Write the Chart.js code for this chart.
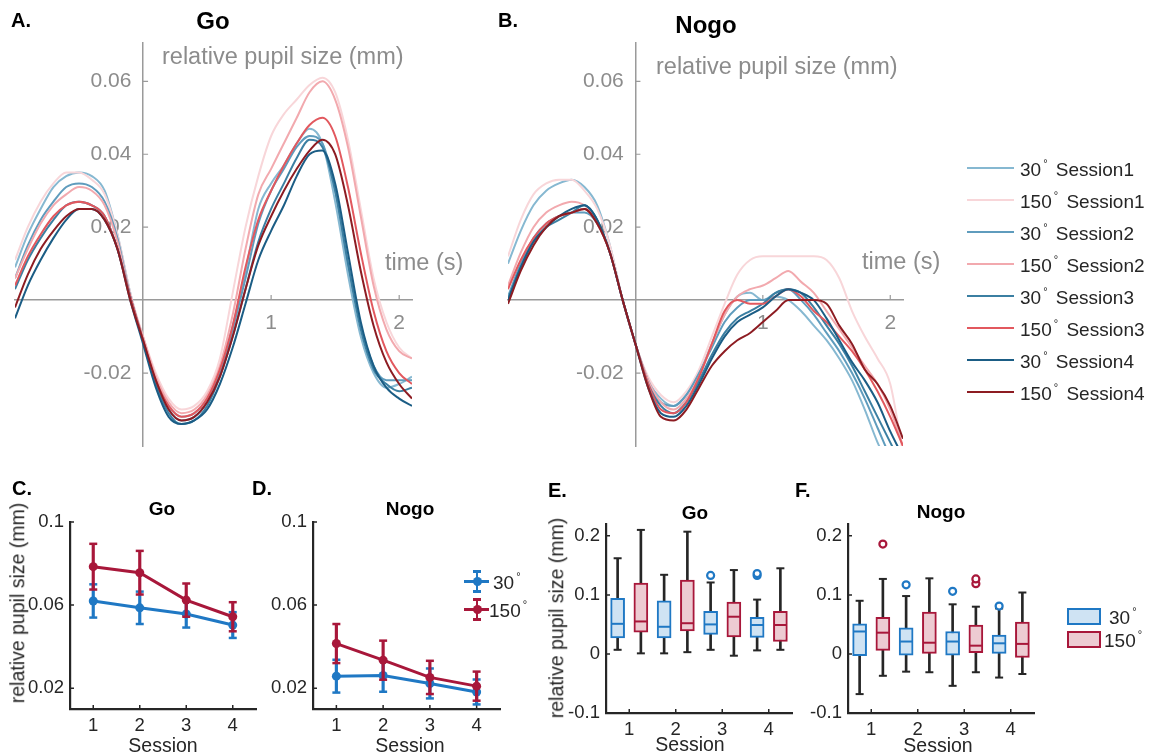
<!DOCTYPE html>
<html>
<head>
<meta charset="utf-8">
<title>Pupil size by session</title>
<script src="https://cdn.jsdelivr.net/npm/chart.js@4.4.1/dist/chart.umd.min.js"></script>
<style>
  body { margin: 0; background: #fff; font-family: "Liberation Sans", Arial, Helvetica, sans-serif; }
  #page { position: relative; width: 1162px; height: 754px; overflow: hidden; background: #fff; }
  #page canvas { position: absolute; left: 0; top: 0; }
  .t { position: absolute; white-space: nowrap; line-height: 1; z-index: 5; }
  .letter { font-weight: bold; font-size: 20px; color: #000; transform: translateY(-50%); }
  .title { font-weight: bold; color: #000; transform: translate(-50%, -50%); }
  .gray { color: #8c8c8c; font-size: 23.5px; transform: translateY(-50%); }
  .lbl { color: #262626; font-size: 19.5px; transform: translate(-50%, -50%); }
  .ylbl { color: #262626; font-size: 19.5px; transform: translate(-50%, -50%) rotate(-90deg); }
  .leg { color: #262626; font-size: 19px; transform: translateY(-50%); }
  .leg sup { font-size: 11px; vertical-align: 9px; margin: 0 3px 0 2px; }
  .swatch { position: absolute; z-index: 5; }
</style>
</head>
<body>
<div id="page">
  <div class="t letter" style="left:11px; top:20px;">A.</div>
  <div class="t title" style="left:213px; top:21px; font-size:24px;">Go</div>
  <div class="t letter" style="left:498px; top:20px;">B.</div>
  <div class="t title" style="left:706px; top:25px; font-size:24px;">Nogo</div>
  <div class="t gray" style="left:162px; top:57px;">relative pupil size (mm)</div>
  <div class="t gray" style="left:656px; top:67px;">relative pupil size (mm)</div>
  <div class="t gray" style="left:385px; top:263px;">time (s)</div>
  <div class="t gray" style="left:862px; top:262px;">time (s)</div>

  <div class="t letter" style="left:12px; top:488px;">C.</div>
  <div class="t title" style="left:162px; top:508px; font-size:19px;">Go</div>
  <div class="t letter" style="left:252px; top:488px;">D.</div>
  <div class="t title" style="left:410px; top:508px; font-size:19px;">Nogo</div>
  <div class="t letter" style="left:548px; top:490px;">E.</div>
  <div class="t title" style="left:695px; top:512px; font-size:19px;">Go</div>
  <div class="t letter" style="left:795px; top:490px;">F.</div>
  <div class="t title" style="left:941px; top:511px; font-size:19px;">Nogo</div>
  <div class="t ylbl" style="left:18px; top:603px;">relative pupil size (mm)</div>
  <div class="t ylbl" style="left:557px; top:618px;">relative pupil size (mm)</div>
  <div class="t lbl" style="left:163px; top:746px;">Session</div>
  <div class="t lbl" style="left:410px; top:746px;">Session</div>
  <div class="t lbl" style="left:690px; top:745px;">Session</div>
  <div class="t lbl" style="left:938px; top:746px;">Session</div>
  <div id="legends"></div>
</div>

<script>
// time axis (s) of the traces in A and B
const timePoints = [-1.0, -0.9, -0.8, -0.7, -0.6, -0.5, -0.4, -0.3, -0.2, -0.1, 0, 0.1, 0.2, 0.3, 0.4, 0.5,
  0.6, 0.7, 0.8, 0.9, 1.0, 1.1, 1.2, 1.3, 1.4, 1.5, 1.6, 1.7, 1.8, 1.9, 2.0, 2.1];
const timeTicks = [1, 2];
const timeTickLabels = ['1', '2'];
const traceTicks = [-0.02, 0.02, 0.04, 0.06];
const traceTickLabels = ['-0.02', '0.02', '0.04', '0.06'];

// A. Go traces
const go30s1 = [0.009, 0.018, 0.025, 0.031, 0.034, 0.035, 0.034, 0.030, 0.018, 0.002, -0.011, -0.022, -0.029, -0.032, -0.031, -0.027, -0.019, -0.007, 0.008, 0.025, 0.032, 0.037, 0.043, 0.047, 0.043, 0.027, 0.007, -0.010, -0.020, -0.024, -0.023, -0.021];
const go150s1 = [0.011, 0.020, 0.027, 0.032, 0.035, 0.035, 0.033, 0.029, 0.018, 0.002, -0.010, -0.020, -0.027, -0.030, -0.029, -0.025, -0.016, 0.002, 0.020, 0.034, 0.045, 0.051, 0.055, 0.059, 0.061, 0.057, 0.044, 0.025, 0.006, -0.006, -0.013, -0.016];
const go30s2 = [0.006, 0.015, 0.022, 0.027, 0.031, 0.032, 0.031, 0.027, 0.017, 0.001, -0.011, -0.022, -0.030, -0.033, -0.032, -0.028, -0.020, -0.008, 0.006, 0.021, 0.030, 0.036, 0.042, 0.045, 0.043, 0.030, 0.010, -0.007, -0.018, -0.022, -0.022, -0.022];
const go150s2 = [0.006, 0.014, 0.021, 0.026, 0.029, 0.031, 0.030, 0.026, 0.016, 0.001, -0.010, -0.021, -0.028, -0.031, -0.030, -0.026, -0.018, -0.004, 0.014, 0.029, 0.036, 0.043, 0.050, 0.057, 0.060, 0.055, 0.042, 0.023, 0.004, -0.008, -0.014, -0.016];
const go30s3 = [0.003, 0.011, 0.017, 0.022, 0.026, 0.027, 0.026, 0.023, 0.014, 0.001, -0.011, -0.023, -0.031, -0.034, -0.033, -0.029, -0.021, -0.010, 0.003, 0.016, 0.025, 0.032, 0.039, 0.044, 0.042, 0.030, 0.010, -0.008, -0.019, -0.023, -0.025, -0.024];
const go150s3 = [0.004, 0.012, 0.018, 0.023, 0.026, 0.027, 0.026, 0.023, 0.014, 0.001, -0.011, -0.022, -0.029, -0.032, -0.031, -0.027, -0.019, -0.007, 0.009, 0.022, 0.030, 0.037, 0.043, 0.048, 0.050, 0.045, 0.031, 0.013, -0.003, -0.014, -0.020, -0.023];
const go30s4 = [-0.005, 0.004, 0.011, 0.017, 0.022, 0.025, 0.025, 0.022, 0.014, 0.000, -0.012, -0.024, -0.032, -0.034, -0.033, -0.030, -0.023, -0.013, -0.001, 0.011, 0.019, 0.026, 0.034, 0.040, 0.041, 0.032, 0.013, -0.006, -0.018, -0.024, -0.027, -0.029];
const go150s4 = [-0.002, 0.007, 0.014, 0.019, 0.023, 0.025, 0.025, 0.022, 0.014, 0.000, -0.011, -0.022, -0.030, -0.033, -0.032, -0.028, -0.021, -0.010, 0.003, 0.015, 0.023, 0.030, 0.036, 0.041, 0.044, 0.040, 0.026, 0.008, -0.007, -0.017, -0.023, -0.027];

// B. Nogo traces
const nogo30s1 = [0.010, 0.019, 0.026, 0.030, 0.032, 0.033, 0.031, 0.026, 0.015, 0.000, -0.012, -0.022, -0.027, -0.029, -0.026, -0.020, -0.012, -0.004, 0.001, 0.002, 0.000, 0.001, 0.000, -0.003, -0.007, -0.011, -0.016, -0.022, -0.030, -0.039, -0.046, -0.052];
const nogo150s1 = [0.012, 0.022, 0.029, 0.032, 0.033, 0.033, 0.030, 0.025, 0.015, 0.000, -0.012, -0.021, -0.026, -0.028, -0.025, -0.019, -0.010, -0.001, 0.007, 0.011, 0.012, 0.012, 0.012, 0.012, 0.012, 0.011, 0.006, -0.003, -0.010, -0.016, -0.023, -0.042];
const nogo30s2 = [0.001, 0.010, 0.017, 0.021, 0.023, 0.024, 0.024, 0.021, 0.013, 0.000, -0.012, -0.022, -0.028, -0.029, -0.026, -0.020, -0.013, -0.006, -0.002, 0.000, 0.000, 0.002, 0.003, 0.000, -0.004, -0.009, -0.014, -0.020, -0.027, -0.035, -0.043, -0.050];
const nogo150s2 = [0.004, 0.013, 0.020, 0.024, 0.026, 0.027, 0.026, 0.022, 0.013, 0.000, -0.012, -0.022, -0.028, -0.030, -0.027, -0.021, -0.012, -0.004, 0.001, 0.003, 0.004, 0.006, 0.008, 0.005, 0.002, -0.003, -0.008, -0.013, -0.018, -0.023, -0.030, -0.040];
const nogo30s3 = [0.000, 0.009, 0.016, 0.020, 0.022, 0.024, 0.026, 0.022, 0.013, 0.000, -0.012, -0.023, -0.029, -0.031, -0.028, -0.022, -0.015, -0.009, -0.005, -0.003, -0.001, 0.002, 0.003, 0.002, -0.002, -0.007, -0.012, -0.018, -0.025, -0.032, -0.039, -0.046];
const nogo150s3 = [0.003, 0.011, 0.017, 0.021, 0.023, 0.024, 0.025, 0.021, 0.013, 0.000, -0.012, -0.023, -0.030, -0.031, -0.028, -0.021, -0.012, -0.003, 0.000, -0.001, -0.001, 0.001, 0.003, 0.001, -0.003, -0.006, -0.010, -0.014, -0.019, -0.025, -0.032, -0.040];
const nogo30s4 = [0.000, 0.009, 0.016, 0.020, 0.023, 0.025, 0.026, 0.022, 0.013, 0.000, -0.012, -0.024, -0.031, -0.032, -0.029, -0.023, -0.016, -0.010, -0.006, -0.004, -0.002, 0.001, 0.003, 0.002, 0.000, -0.005, -0.011, -0.017, -0.022, -0.028, -0.036, -0.043];
const nogo150s4 = [-0.001, 0.008, 0.015, 0.020, 0.023, 0.024, 0.025, 0.021, 0.013, 0.000, -0.012, -0.024, -0.032, -0.033, -0.030, -0.024, -0.018, -0.014, -0.011, -0.009, -0.006, -0.003, 0.000, 0.000, 0.000, -0.001, -0.007, -0.012, -0.019, -0.023, -0.029, -0.038];

const traceLabels = ['30° Session1', '150° Session1', '30° Session2', '150° Session2',
  '30° Session3', '150° Session3', '30° Session4', '150° Session4'];
const traceColors = ['#86b8d1', '#f8d6d9', '#5f9cbd', '#f2a9ae', '#3b7fa2', '#e2585e', '#1b5d85', '#8d1c22'];

// C/D: mean +/- s.e.m. per session
const sessions = [1, 2, 3, 4];
const sessionLabels = ['1', '2', '3', '4'];
const goMean30 = [0.0620, 0.0587, 0.0557, 0.0504];
const goErr30 = [0.0080, 0.0078, 0.0065, 0.0062];
const goMean150 = [0.0785, 0.0756, 0.0624, 0.0544];
const goErr150 = [0.0110, 0.0105, 0.0080, 0.0070];
const nogoMean30 = [0.0258, 0.0261, 0.0223, 0.0182];
const nogoErr30 = [0.0079, 0.0078, 0.0072, 0.0060];
const nogoMean150 = [0.0415, 0.0335, 0.0252, 0.0210];
const nogoErr150 = [0.0094, 0.0094, 0.0080, 0.0070];
const meanTicks = [0.02, 0.06, 0.1];
const meanTickLabels = ['0.02', '0.06', '0.1'];

// E/F: box plots, [lower whisker, q1, median, q3, upper whisker]
const goBox30 = [[0.007, 0.027, 0.051, 0.094, 0.162], [0.001, 0.027, 0.046, 0.090, 0.134], [0.007, 0.033, 0.050, 0.072, 0.121], [0.006, 0.028, 0.049, 0.062, 0.092]];
const goOut30 = [[], [], [0.133], [0.133, 0.136]];
const goBox150 = [[0.001, 0.037, 0.055, 0.120, 0.210], [0.003, 0.039, 0.052, 0.125, 0.207], [-0.003, 0.029, 0.063, 0.088, 0.142], [0.007, 0.021, 0.049, 0.072, 0.145]];
const goOut150 = [[], [], [], []];
const nogoBox30 = [[-0.068, -0.003, 0.038, 0.051, 0.090], [-0.030, -0.002, 0.021, 0.044, 0.098], [-0.054, -0.002, 0.021, 0.038, 0.084], [-0.040, 0.001, 0.018, 0.032, 0.077]];
const nogoOut30 = [[], [0.117], [0.106], [0.081]];
const nogoBox150 = [[-0.037, 0.006, 0.036, 0.062, 0.127], [-0.031, 0.001, 0.019, 0.071, 0.128], [-0.031, 0.002, 0.014, 0.049, 0.080], [-0.034, -0.006, 0.017, 0.054, 0.104]];
const nogoOut150 = [[0.186], [], [0.119, 0.127], []];
const boxTicks = [-0.1, 0, 0.1, 0.2];
const boxTickLabels = ['-0.1', '0', '0.1', '0.2'];

const W = 1162, H = 754;
const FONT = '"Liberation Sans", Arial, Helvetica, sans-serif';
const AXIS_GRAY = '#9a9a9a', TICK_GRAY = '#8c8c8c';
const AXIS_DARK = '#262626', TICK_DARK = '#262626';
const BLUE = '#1f78c4', RED = '#a8173a';
const BLUE_FILL = '#cfe3f3', RED_FILL = '#edcbd2';

Chart.defaults.font.family = FONT;

// MATLAB style ticks that point into the axes
Chart.register({
  id: 'innerTicks',
  beforeDatasetsDraw(chart, args, opts) {
    if (!opts.len) return;
    const { ctx, chartArea } = chart;
    const xs = chart.scales.x, ys = chart.scales.y;
    const xLine = opts.cross ? ys.getPixelForValue(0) : chartArea.bottom;
    const yLine = opts.cross ? xs.getPixelForValue(0) : chartArea.left;
    ctx.save();
    ctx.strokeStyle = opts.color;
    ctx.lineWidth = opts.width;
    ctx.beginPath();
    xs.ticks.forEach(t => {
      const p = xs.getPixelForValue(t.value);
      ctx.moveTo(p, xLine); ctx.lineTo(p, xLine - opts.len);
    });
    ys.ticks.forEach(t => {
      const p = ys.getPixelForValue(t.value);
      ctx.moveTo(yLine, p); ctx.lineTo(yLine + opts.len, p);
    });
    ctx.stroke();
    ctx.restore();
  }
});

function makeCanvas() {
  const c = document.createElement('canvas');
  c.width = W; c.height = H;
  document.getElementById('page').appendChild(c);
  return c;
}

function areaPadding(a, yw, xh) {
  return { left: a.left - yw, top: a.top, right: W - a.right, bottom: H - a.bottom - xh };
}

const baseOptions = {
  responsive: false,
  animation: false,
  devicePixelRatio: 1,
  events: []
};

function timeCourse(area, series) {
  const datasets = series.map((values, i) => ({
    type: 'line',
    label: traceLabels[i],
    data: timePoints.map((t, k) => ({ x: t, y: values[k] })),
    borderColor: traceColors[i],
    borderWidth: 2,
    pointRadius: 0,
    cubicInterpolationMode: 'monotone',
    order: series.length - i
  }));
  new Chart(makeCanvas(), {
    type: 'line',
    data: { datasets },
    options: Object.assign({}, baseOptions, {
      layout: { padding: areaPadding(area, 0, 0) },
      plugins: {
        legend: { display: false },
        tooltip: { enabled: false },
        innerTicks: { len: 5, color: AXIS_GRAY, width: 1.2, cross: true }
      },
      scales: {
        x: {
          type: 'linear', min: -1.0, max: 2.1, position: { y: 0 },
          grid: { display: false, drawTicks: false },
          border: { color: AXIS_GRAY, width: 1.5 },
          ticks: { color: TICK_GRAY, font: { size: 21 }, padding: 10, callback: (v, i) => timeTickLabels[i] },
          afterBuildTicks: s => { s.ticks = timeTicks.map(v => ({ value: v })); }
        },
        y: {
          type: 'linear', min: -0.04, max: 0.0705, position: { x: 0 },
          grid: { display: false, drawTicks: false },
          border: { color: AXIS_GRAY, width: 1.5 },
          ticks: { color: TICK_GRAY, font: { size: 21 }, padding: 10, callback: (v, i) => traceTickLabels[i] + '  ' },
          afterBuildTicks: s => { s.ticks = traceTicks.map(v => ({ value: v })); }
        }
      }
    })
  });
}

function sessionScales(yMin, yMax, ticks, labels) {
  return {
    x: {
      type: 'linear', min: 0.5, max: 4.5, position: 'bottom', offset: false,
      grid: { display: false, drawTicks: false },
      border: { color: AXIS_DARK, width: 2.2 },
      ticks: { color: TICK_DARK, font: { size: 18.5 }, padding: 6, callback: (v, i) => sessionLabels[i] },
      afterBuildTicks: s => { s.ticks = sessions.map(v => ({ value: v })); },
      afterFit: s => { s.height = 40; }
    },
    y: {
      type: 'linear', min: yMin, max: yMax, position: 'left',
      grid: { display: false, drawTicks: false },
      border: { color: AXIS_DARK, width: 2.2 },
      ticks: { color: TICK_DARK, font: { size: 18.5 }, padding: 6, callback: (v, i) => labels[i] },
      afterBuildTicks: s => { s.ticks = ticks.map(v => ({ value: v })); },
      afterFit: s => { s.width = 60; }
    }
  };
}

function meanChart(area, mean30, err30, mean150, err150) {
  const groups = [
    { means: mean150, errs: err150, color: RED, base: 1 },
    { means: mean30, errs: err30, color: BLUE, base: 4 }
  ];
  const datasets = [];
  groups.forEach(g => {
    datasets.push({
      type: 'line',
      data: sessions.map((s, i) => ({ x: s, y: g.means[i] })),
      borderColor: g.color, borderWidth: 3,
      pointRadius: 4.5, pointBackgroundColor: g.color, pointBorderWidth: 0,
      order: g.base
    });
    datasets.push({
      type: 'bar', grouped: false,
      data: sessions.map((s, i) => ({ x: s, y: [g.means[i] - g.errs[i], g.means[i] + g.errs[i]] })),
      backgroundColor: g.color, barThickness: 2.5,
      order: g.base + 1
    });
    datasets.push({
      type: 'scatter',
      data: sessions.flatMap((s, i) => [{ x: s, y: g.means[i] - g.errs[i] }, { x: s, y: g.means[i] + g.errs[i] }]),
      pointStyle: 'line', pointRadius: 4, pointBorderWidth: 2.5, pointBorderColor: g.color,
      order: g.base + 1
    });
  });
  new Chart(makeCanvas(), {
    type: 'line',
    data: { datasets },
    options: Object.assign({}, baseOptions, {
      layout: { padding: areaPadding(area, 60, 40) },
      plugins: {
        legend: { display: false },
        tooltip: { enabled: false },
        innerTicks: { len: 4, color: AXIS_DARK, width: 1.5 }
      },
      scales: sessionScales(0.01, 0.1, meanTicks, meanTickLabels)
    })
  });
}

function boxChart(area, box30, out30, box150, out150) {
  const groups = [
    { boxes: box30, outs: out30, shift: -0.25, edge: BLUE, fill: BLUE_FILL },
    { boxes: box150, outs: out150, shift: 0.25, edge: RED, fill: RED_FILL }
  ];
  const datasets = [];
  groups.forEach(g => {
    const xs = sessions.map(s => s + g.shift);
    datasets.push({
      type: 'bar', grouped: false,
      data: xs.map((x, i) => ({ x, y: [g.boxes[i][0], g.boxes[i][4]] })),
      backgroundColor: AXIS_DARK, barThickness: 2,
      order: 5
    });
    datasets.push({
      type: 'scatter',
      data: xs.flatMap((x, i) => [{ x, y: g.boxes[i][0] }, { x, y: g.boxes[i][4] }]),
      pointStyle: 'line', pointRadius: 4, pointBorderWidth: 2, pointBorderColor: AXIS_DARK,
      order: 4
    });
    datasets.push({
      type: 'bar', grouped: false,
      data: xs.map((x, i) => ({ x, y: [g.boxes[i][1], g.boxes[i][3]] })),
      backgroundColor: g.fill, borderColor: g.edge, borderWidth: 2, borderSkipped: false,
      barThickness: 14,
      order: 3
    });
    datasets.push({
      type: 'scatter',
      data: xs.map((x, i) => ({ x, y: g.boxes[i][2] })),
      pointStyle: 'line', pointRadius: 6, pointBorderWidth: 2, pointBorderColor: g.edge,
      order: 2
    });
    datasets.push({
      type: 'scatter',
      data: xs.flatMap((x, i) => g.outs[i].map(v => ({ x, y: v }))),
      pointStyle: 'circle', pointRadius: 3.5, pointBorderWidth: 2.2,
      pointBorderColor: g.edge, pointBackgroundColor: '#ffffff',
      order: 1
    });
  });
  new Chart(makeCanvas(), {
    type: 'line',
    data: { datasets },
    options: Object.assign({}, baseOptions, {
      layout: { padding: areaPadding(area, 60, 40) },
      plugins: {
        legend: { display: false },
        tooltip: { enabled: false },
        innerTicks: { len: 4, color: AXIS_DARK, width: 1.5 }
      },
      scales: sessionScales(-0.1, 0.22, boxTicks, boxTickLabels)
    })
  });
}

timeCourse({ left: 15, right: 412, top: 43, bottom: 446 },
  [go30s1, go150s1, go30s2, go150s2, go30s3, go150s3, go30s4, go150s4]);
timeCourse({ left: 508, right: 903, top: 43, bottom: 446 },
  [nogo30s1, nogo150s1, nogo30s2, nogo150s2, nogo30s3, nogo150s3, nogo30s4, nogo150s4]);
meanChart({ left: 70, right: 256, top: 522, bottom: 709 }, goMean30, goErr30, goMean150, goErr150);
meanChart({ left: 313, right: 500, top: 522, bottom: 709 }, nogoMean30, nogoErr30, nogoMean150, nogoErr150);
boxChart({ left: 606, right: 792, top: 524, bottom: 713 }, goBox30, goOut30, goBox150, goOut150);
boxChart({ left: 848, right: 1034, top: 524, bottom: 713 }, nogoBox30, nogoOut30, nogoBox150, nogoOut150);

// legends (HTML)
const legendHost = document.getElementById('legends');
function addDiv(cls, style, html) {
  const d = document.createElement('div');
  d.className = cls;
  d.setAttribute('style', style);
  if (html) d.innerHTML = html;
  legendHost.appendChild(d);
}
function degLabel(text) {
  const parts = text.split('°');
  return parts[0] + '<sup>°</sup>' + parts[1];
}
traceLabels.forEach((lab, i) => {
  const cy = 168 + i * 32;
  addDiv('swatch', `left:967px; top:${cy - 1.25}px; width:47px; height:2.5px; background:${traceColors[i]};`);
  addDiv('t leg', `left:1020px; top:${cy}px;`, degLabel(lab));
});
[{ lab: '30°', color: BLUE, cy: 581, x: 493 }, { lab: '150°', color: RED, cy: 609, x: 489 }].forEach(it => {
  addDiv('swatch', `left:464px; top:${it.cy - 1.5}px; width:25px; height:3px; background:${it.color};`);
  addDiv('swatch', `left:475.5px; top:${it.cy - 10}px; width:2.5px; height:20px; background:${it.color};`);
  addDiv('swatch', `left:473px; top:${it.cy - 11}px; width:7.5px; height:2.5px; background:${it.color};`);
  addDiv('swatch', `left:473px; top:${it.cy + 9}px; width:7.5px; height:2.5px; background:${it.color};`);
  addDiv('swatch', `left:472.5px; top:${it.cy - 4.5}px; width:9px; height:9px; border-radius:50%; background:${it.color};`);
  addDiv('t leg', `left:${it.x}px; top:${it.cy}px;`, degLabel(it.lab));
});
[{ lab: '30°', edge: BLUE, fill: BLUE_FILL, top: 608, x: 1109 }, { lab: '150°', edge: RED, fill: RED_FILL, top: 631, x: 1104 }].forEach(it => {
  addDiv('swatch', `left:1067px; top:${it.top}px; width:30px; height:13px; background:${it.fill}; border:2px solid ${it.edge};`);
  addDiv('t leg', `left:${it.x}px; top:${it.top + 8}px;`, degLabel(it.lab));
});
</script>
</body>
</html>
